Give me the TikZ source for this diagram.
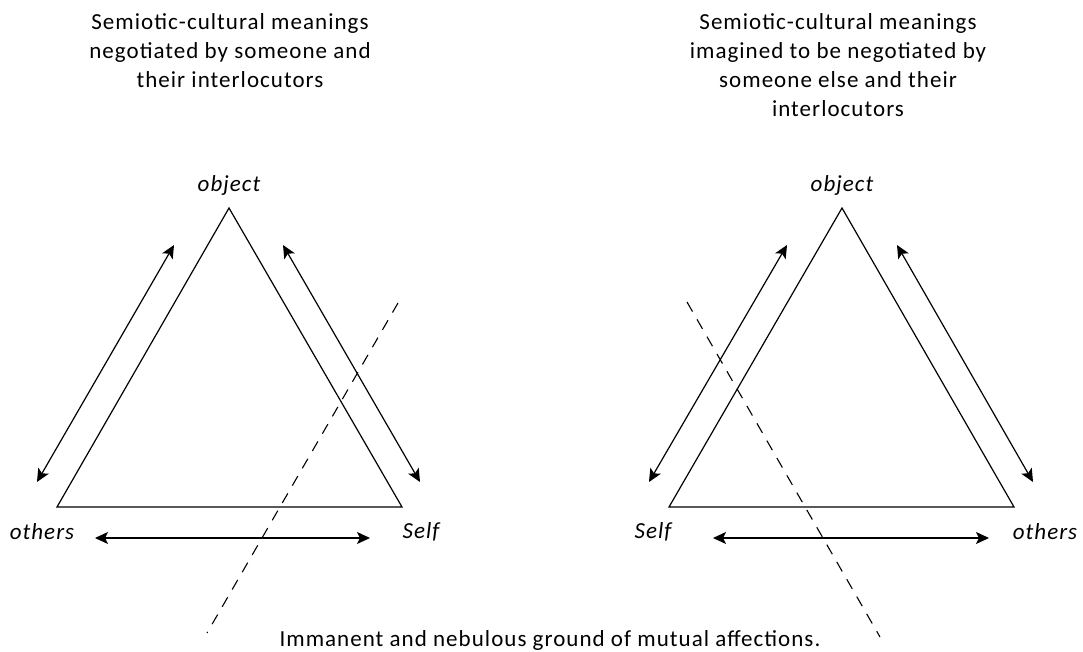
\documentclass[tikz,border=0pt]{standalone}
\usepackage{fontspec}
\setmainfont{Carlito}[LetterSpace=4.5]
\usetikzlibrary{arrows.meta, positioning, calc}

\tikzset{
  lbl/.style={font=\fontsize{23}{29}\selectfont\itshape, inner sep=0pt},
  ttl/.style={font=\fontsize{23}{29}\selectfont, align=center, inner sep=0pt},
  side/.style={line width=1.2pt},
  twoway/.style={line width=1.2pt, {Stealth[length=13pt,width=12pt,inset=3pt]}-{Stealth[length=13pt,width=12pt,inset=3pt]}},
  cut/.style={line width=1.1pt, dash pattern=on 11pt off 9pt}
}

\begin{document}
\begin{tikzpicture}[x=1pt,y=-1pt]
\useasboundingbox (0,0) rectangle (1083,652);

% left triangle
\coordinate (Lobj) at (229,208);
\coordinate (Loth) at (57,507);
\coordinate (Lself) at (402,507);
\draw[side] (Lobj) -- (Loth) -- (Lself) -- cycle;
\coordinate (La1) at (174,245);
\coordinate (La2) at (37,482);
\coordinate (Lb1) at (283,245);
\coordinate (Lb2) at (420,482);
\coordinate (Lc1) at (95,538);
\coordinate (Lc2) at (370,538);
\draw[twoway] (La1) -- (La2);
\draw[twoway] (Lb1) -- (Lb2);
\draw[twoway] (Lc1) -- (Lc2);
\coordinate (Lcut1) at (398,303);
\coordinate (Lcut2) at (207,633);
\draw[cut] (Lcut1) -- (Lcut2);

% right triangle
\coordinate (Robj) at (842,208);
\coordinate (Rself) at (669,507);
\coordinate (Roth) at (1014,507);
\draw[side] (Robj) -- (Rself) -- (Roth) -- cycle;
\coordinate (Ra1) at (787,245);
\coordinate (Ra2) at (649,482);
\coordinate (Rb1) at (897,245);
\coordinate (Rb2) at (1033,482);
\coordinate (Rc1) at (713,538);
\coordinate (Rc2) at (989,538);
\draw[twoway] (Ra1) -- (Ra2);
\draw[twoway] (Rb1) -- (Rb2);
\draw[twoway] (Rc1) -- (Rc2);
\coordinate (Rcut1) at (687,302);
\coordinate (Rcut2) at (880,637);
\draw[cut] (Rcut1) -- (Rcut2);

% labels
\node[lbl] (lobject) at (229,185) {object};
\node[lbl] (lothers) at (42,532) {others};
\node[lbl] (lself) at (421,532) {Self};
\node[lbl] (robject) at (842,185) {object};
\node[lbl] (rself) at (653,532) {Self};
\node[lbl] (rothers) at (1045,532) {others};

% titles
\node[ttl, anchor=north] (ltitle) at (230,13) {Semiotic-cultural meanings\\negotiated by someone and\\their interlocutors};
\node[ttl, anchor=north] (rtitle) at (838,13) {Semiotic-cultural meanings\\imagined to be negotiated by\\someone else and their\\interlocutors};
\node[ttl] (ground) at (550,640) {Immanent and nebulous ground of mutual affections.};
\end{tikzpicture}
\end{document}
